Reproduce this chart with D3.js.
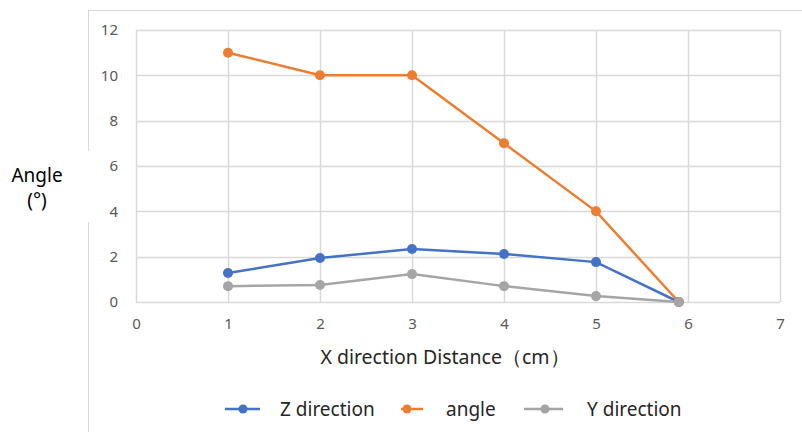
<!DOCTYPE html>
<html><head><meta charset="utf-8">
<script src="https://cdn.jsdelivr.net/npm/d3@7"></script>
<style>body{margin:0;background:#fff;} svg{display:block;font-family:"Noto Sans",sans-serif;}</style>
</head><body>
<svg id="c" width="802" height="432"></svg>
<script>
const xValues = [1, 2, 3, 4, 5, 5.9];
const zDirection = [1.28, 1.94, 2.34, 2.12, 1.76, 0];
const angle = [11, 10, 10, 7, 4, 0];
const yDirection = [0.7, 0.75, 1.23, 0.7, 0.26, 0];
const xTicks = [0, 1, 2, 3, 4, 5, 6, 7];
const yTicks = [0, 2, 4, 6, 8, 10, 12];
const seriesNames = ["Z direction", "angle", "Y direction"];
const colors = ["#4472C4", "#ED7D31", "#A5A5A5"];

const svg = d3.select("#c");
// outer frame
svg.append("rect").attr("x", 88.5).attr("y", 10.5).attr("width", 760).attr("height", 460)
  .attr("fill", "none").attr("stroke", "#d9d9d9").attr("stroke-width", 1);

const x = d3.scaleLinear().domain([0, 7]).range([136, 780]);
const y = d3.scaleLinear().domain([0, 12]).range([302, 30]);

const g = svg.append("g");
// grid
g.selectAll(".vg").data(xTicks).join("line")
  .attr("x1", d => Math.round(x(d)) + 0.5).attr("x2", d => Math.round(x(d)) + 0.5)
  .attr("y1", y(12)).attr("y2", y(0)).attr("stroke", "#d9d9d9").attr("stroke-width", 1.5);
g.selectAll(".hg").data(yTicks).join("line")
  .attr("y1", d => Math.round(y(d)) + 0.5).attr("y2", d => Math.round(y(d)) + 0.5)
  .attr("x1", x(0)).attr("x2", x(7)).attr("stroke", "#d9d9d9").attr("stroke-width", 1.5);

// axes labels
const xAxis = d3.axisBottom(x).tickValues(xTicks).tickFormat(d3.format("d")).tickSize(0).tickPadding(16);
const gx = svg.append("g").attr("transform", `translate(0,${y(0)})`).call(xAxis);
gx.select(".domain").remove();
gx.selectAll("text").attr("fill", "#595959").attr("font-size", 15).attr("font-family", "Noto Sans, sans-serif");

const yAxis = d3.axisLeft(y).tickValues(yTicks).tickFormat(d3.format("d")).tickSize(0).tickPadding(18);
const gy = svg.append("g").attr("transform", `translate(${x(0)},0)`).call(yAxis);
gy.select(".domain").remove();
gy.selectAll("text").attr("fill", "#595959").attr("font-size", 15).attr("font-family", "Noto Sans, sans-serif");

// series
const allSeries = [zDirection, angle, yDirection];
const line = d3.line().x((d, i) => x(xValues[i])).y(d => y(d));
allSeries.forEach((vals, k) => {
  svg.append("path").datum(vals).attr("d", line).attr("fill", "none")
    .attr("stroke", colors[k]).attr("stroke-width", 2.5);
});
allSeries.forEach((vals, k) => {
  svg.selectAll(".m" + k).data(vals).join("circle")
    .attr("cx", (d, i) => x(xValues[i])).attr("cy", d => y(d)).attr("r", 5)
    .attr("fill", colors[k]);
});

// y title with white box
svg.append("rect").attr("x", 0).attr("y", 151).attr("width", 90).attr("height", 71).attr("fill", "#fff");
svg.append("text").attr("x", 37).attr("y", 182).attr("text-anchor", "middle")
  .attr("font-size", 19).attr("fill", "#000").text("Angle");
svg.append("text").attr("x", 37).attr("y", 207).attr("text-anchor", "middle")
  .attr("font-size", 19).attr("fill", "#000").text("(°)");

// x title
svg.append("text").attr("x", 445).attr("y", 364).attr("text-anchor", "middle")
  .attr("font-size", 19.5).attr("fill", "#262626").text("X direction Distance（cm）");

// legend
const legend = [
  {x1: 225, x2: 260, dot: 243, tx: 280},
  {x1: 401, x2: 423, dot: 407, tx: 446},
  {x1: 524, x2: 563, dot: 545, tx: 587}
];
legend.forEach((l, k) => {
  svg.append("line").attr("x1", l.x1).attr("x2", l.x2).attr("y1", 409).attr("y2", 409)
    .attr("stroke", colors[k]).attr("stroke-width", 2.5);
  svg.append("circle").attr("cx", l.dot).attr("cy", 409).attr("r", 4.5).attr("fill", colors[k]);
  svg.append("text").attr("x", l.tx).attr("y", 416).attr("font-size", 19).attr("fill", "#262626")
    .text(seriesNames[k]);
});
</script>
</body></html>
